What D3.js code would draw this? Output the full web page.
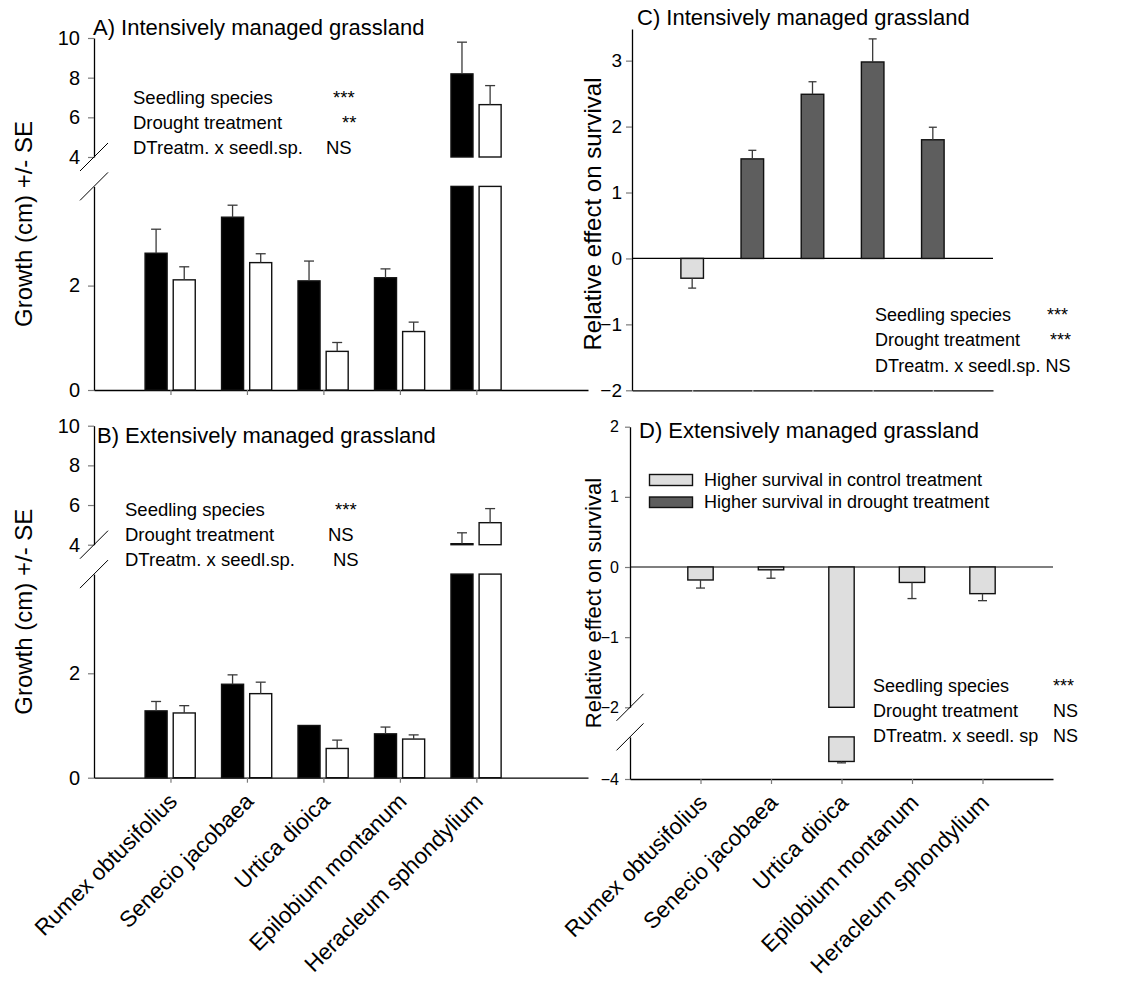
<!DOCTYPE html>
<html><head><meta charset="utf-8">
<script src="https://cdn.jsdelivr.net/npm/d3@7"></script>
<style>
body{margin:0;background:#fff;}
svg{display:block;}
text{font-family:"Liberation Sans",Arial,sans-serif;fill:#000;}
</style></head>
<body><svg id="chart" width="1135" height="985"></svg>
<script>
// ---------------- data ----------------
const species = ["Rumex obtusifolius","Senecio jacobaea","Urtica dioica","Epilobium montanum","Heracleum sphondylium"];
// Growth (cm), intensively managed grassland (black = control, white = drought)
const intControl   = [2.62, 3.31, 2.09, 2.15, 8.19];
const intControlSE = [0.46, 0.23, 0.38, 0.17, 1.60];
const intDrought   = [2.11, 2.44, 0.74, 1.12, 6.64];
const intDroughtSE = [0.25, 0.17, 0.17, 0.18, 0.96];
// Growth (cm), extensively managed grassland
const extControl   = [1.28, 1.79, 1.00, 0.84, 4.05];
const extControlSE = [0.18, 0.18, 0.00, 0.13, 0.55];
const extDrought   = [1.24, 1.61, 0.56, 0.74, 5.11];
const extDroughtSE = [0.14, 0.22, 0.16, 0.08, 0.71];
// Relative effect on survival
const intEffect   = [-0.30, 1.51, 2.49, 2.98, 1.80];
const intEffectSE = [0.15, 0.13, 0.19, 0.35, 0.19];
const extEffect   = [-0.185, -0.04, -3.75, -0.22, -0.38];
const extEffectSE = [0.115, 0.12, 0.02, 0.23, 0.10];
// tick labels
const growthTicksHigh = [4, 6, 8, 10];
const growthTicksLow  = [0, 2];
const effectTicksC    = [-2, -1, 0, 1, 2, 3];
const effectTicksDHigh = [-2, -1, 0, 1, 2];
const effectTicksDLow  = [-4];
// texts
const titles = ["A) Intensively managed grassland","B) Extensively managed grassland","C) Intensively managed grassland","D) Extensively managed grassland"];
const statLabelsAB = ["Seedling species","Drought treatment","DTreatm. x seedl.sp."];
const statA = ["***","**","NS"];
const statB = ["***","NS","NS"];
const statLabelsC = ["Seedling species","Drought treatment","DTreatm. x seedl.sp. NS"];
const statC = ["***","***",""];
const statLabelsD = ["Seedling species","Drought treatment","DTreatm. x seedl. sp"];
const statD = ["***","NS","NS"];
const legendLabels = ["Higher survival in control treatment","Higher survival in drought treatment"];
const yLabelGrowth = "Growth (cm) +/- SE";
const yLabelEffect = "Relative effect on survival";

// ---------------- drawing ----------------
const svg = d3.select("#chart");
const LIGHT = "#dedede", DARK = "#5e5e5e", ERR = "#3a3a3a", TICK = "#7a7a7a";
const idx = [1,2,3,4,5];
const fmt = d3.format("d");

function styleAxis(g, fs){
  g.select(".domain").attr("stroke","#000").attr("stroke-width",1.3);
  g.selectAll(".tick line").attr("stroke",TICK).attr("stroke-width",1.2);
  g.selectAll(".tick text").attr("font-size",fs).attr("font-family",'"Liberation Sans",Arial,sans-serif').attr("fill","#000");
}
function errBar(g, x, y0, y1, half){
  g.append("line").attr("x1",x).attr("x2",x).attr("y1",y0).attr("y2",y1).attr("stroke",ERR).attr("stroke-width",1.3);
  g.append("line").attr("x1",x-half).attr("x2",x+half).attr("y1",y1).attr("y2",y1).attr("stroke",ERR).attr("stroke-width",1.3);
}
function breakMarks(g, x, yc, d){
  g.append("line").attr("x1",x-d).attr("y1",yc+d).attr("x2",x+d).attr("y2",yc-d).attr("stroke","#000").attr("stroke-width",1);
}
function rect(g, x, y0, y1, w, fill){
  g.append("rect").attr("x",x).attr("y",Math.min(y0,y1)).attr("width",w).attr("height",Math.max(0.8,Math.abs(y1-y0)))
   .attr("fill",fill).attr("stroke","#111").attr("stroke-width",1.4);
}
function xLabels(g, x, axisY){
  species.forEach((s,i)=>{
    g.append("text").attr("text-anchor","end").attr("font-size",22.5)
     .attr("transform",`translate(${x(idx[i])+8},${axisY+25}) rotate(-45)`).text(s);
  });
}

// Growth panels (A, B)
function growthPanel(dy, title, ctrl, ctrlSE, dr, drSE, statX, stat, statY, titleX, titleY){
  const g = svg.append("g");
  const lowMax = 3.9;
  const yLow  = d3.scaleLinear().domain([0, lowMax]).range([390+dy, 186.4+dy]);
  const yHigh = d3.scaleLinear().domain([4, 10]).range([157+dy, 38+dy]);
  const x = d3.scaleLinear().domain([0, 6.46]).range([94, 588]);
  const step = x(1)-x(0), bw = step*0.288;

  g.append("g").attr("transform","translate(94,0)")
   .call(d3.axisLeft(yHigh).tickValues(growthTicksHigh).tickFormat(fmt).tickSize(6).tickSizeOuter(0).tickPadding(8))
   .call(a=>styleAxis(a,20));
  g.append("g").attr("transform","translate(94,0)")
   .call(d3.axisLeft(yLow).tickValues(growthTicksLow).tickFormat(fmt).tickSize(6).tickSizeOuter(0).tickPadding(8))
   .call(a=>styleAxis(a,20));
  g.append("g").attr("transform",`translate(0,${yLow(0)})`)
   .call(d3.axisBottom(x).tickValues(idx).tickFormat("").tickSize(5).tickSizeOuter(0))
   .call(a=>styleAxis(a,20));
  breakMarks(g, 94, yHigh(4), 14);
  breakMarks(g, 94, yLow(lowMax), 14);

  [[ctrl,ctrlSE,"#000",-1],[dr,drSE,"#fff",1]].forEach(([vals,se,fill,side])=>{
    vals.forEach((v,i)=>{
      const c = x(idx[i]);
      const xx = side<0 ? c-step*0.332 : c+step*0.036;
      rect(g, xx, yLow(0), yLow(Math.min(v,lowMax)), bw, fill);
      let top;
      if (v > 4){ rect(g, xx, yHigh(4), yHigh(v), bw, fill); top = yHigh(v); }
      else top = yLow(v);
      if (se[i] > 0){
        const e = v > 4 ? yHigh(v+se[i]) : yLow(v+se[i]);
        errBar(g, xx+bw/2, top, e, 5);
      }
    });
  });

  g.append("text").attr("x",titleX).attr("y",titleY).attr("font-size",22).text(title);
  statLabelsAB.forEach((t,i)=>{
    g.append("text").attr("x",statX[0]).attr("y",statY[i]).attr("font-size",18.5).text(t);
    g.append("text").attr("x",statX[1][i]).attr("y",statY[i]).attr("font-size",18.5).text(stat[i]);
  });
  g.append("text").attr("transform",`translate(32,${dy+224}) rotate(-90)`).attr("text-anchor","middle")
   .attr("font-size",24).text(yLabelGrowth);
  return x;
}
growthPanel(0, titles[0], intControl, intControlSE, intDrought, intDroughtSE,
  [133,[333,342,326]], statA, [104,129,154], 93, 35);
const xB = growthPanel(387.7, titles[1], extControl, extControlSE, extDrought, extDroughtSE,
  [125,[335,328,333]], statB, [516,541,566], 97, 443);
xLabels(svg.append("g"), xB, 777.7);

// Panel C
(function(){
  const g = svg.append("g");
  const y = d3.scaleLinear().domain([-2, 3.48]).range([390.3, 29]);
  const x = d3.scaleLinear().domain([0, 6]).range([632, 993]);
  const bw = (x(1)-x(0))*0.375;
  g.append("g").attr("transform","translate(632,0)")
   .call(d3.axisLeft(y).tickValues(effectTicksC).tickFormat(fmt).tickSize(6).tickSizeOuter(0).tickPadding(4))
   .call(a=>styleAxis(a,19));
  g.append("g").attr("transform",`translate(0,${y(-2)})`)
   .call(d3.axisBottom(x).tickValues(idx).tickFormat("").tickSize(2).tickSizeOuter(0))
   .call(a=>{styleAxis(a,19); a.selectAll(".tick line").attr("stroke","#ccc");});
  g.append("line").attr("x1",x(0)).attr("x2",x(6)).attr("y1",y(0)).attr("y2",y(0)).attr("stroke","#000").attr("stroke-width",1.2);
  intEffect.forEach((v,i)=>{
    const c = x(idx[i]);
    rect(g, c-bw/2, y(0), y(v), bw, v<0?LIGHT:DARK);
    const s = v<0 ? -1 : 1;
    errBar(g, c, y(v), y(v + s*intEffectSE[i]), 4);
  });
  g.append("text").attr("x",637).attr("y",25).attr("font-size",22).text(titles[2]);
  const sy=[321,346,371.5], sx=[1047,1050,0];
  statLabelsC.forEach((t,i)=>{
    g.append("text").attr("x",875).attr("y",sy[i]).attr("font-size",18).text(t);
    if (statC[i]) g.append("text").attr("x",sx[i]).attr("y",sy[i]).attr("font-size",18).text(statC[i]);
  });
  g.append("text").attr("transform",`translate(601,214) rotate(-90)`).attr("text-anchor","middle")
   .attr("font-size",24).text(yLabelEffect);
})();

// Panel D
(function(){
  const g = svg.append("g");
  const yU = d3.scaleLinear().domain([-2, 2]).range([707.3, 426.7]);
  const yL = d3.scaleLinear().domain([-4, -3.4]).range([779, 736.9]);
  const x = d3.scaleLinear().domain([0, 6]).range([630, 1053]);
  const bw = (x(1)-x(0))*0.36;
  g.append("g").attr("transform","translate(630,0)")
   .call(d3.axisLeft(yU).tickValues(effectTicksDHigh).tickFormat(fmt).tickSize(5).tickSizeOuter(0).tickPadding(6))
   .call(a=>styleAxis(a,16));
  g.append("g").attr("transform","translate(630,0)")
   .call(d3.axisLeft(yL).tickValues(effectTicksDLow).tickFormat(fmt).tickSize(5).tickSizeOuter(0).tickPadding(6))
   .call(a=>styleAxis(a,16));
  g.append("g").attr("transform",`translate(0,${yL(-4)})`)
   .call(d3.axisBottom(x).tickValues(idx).tickFormat("").tickSize(5).tickSizeOuter(0))
   .call(a=>styleAxis(a,16));
  breakMarks(g, 630, yU(-2), 13.5);
  breakMarks(g, 630, yL(-3.4), 13.5);
  g.append("line").attr("x1",x(0)).attr("x2",x(6)).attr("y1",yU(0)).attr("y2",yU(0)).attr("stroke","#000").attr("stroke-width",1.2);
  extEffect.forEach((v,i)=>{
    const c = x(idx[i]);
    const fill = v<0?LIGHT:DARK;
    rect(g, c-bw/2, yU(0), yU(Math.max(v,-2)), bw, fill);
    if (v < -2){
      rect(g, c-bw/2, yL(-3.4), yL(v), bw, fill);
      errBar(g, c, yL(v), yL(v-extEffectSE[i]), 4.5);
    } else {
      errBar(g, c, yU(v), yU(v + (v<0?-1:1)*extEffectSE[i]), 4.5);
    }
  });
  g.append("text").attr("x",639).attr("y",438).attr("font-size",22).text(titles[3]);
  // legend
  [LIGHT, DARK].forEach((f,i)=>{
    g.append("rect").attr("x",649.5).attr("y",i?497:474.5).attr("width",43).attr("height",i?10.5:11)
     .attr("fill",f).attr("stroke","#111").attr("stroke-width",1.4);
    g.append("text").attr("x",704).attr("y",i?508:486).attr("font-size",18).text(legendLabels[i]);
  });
  const sy=[692,717,742];
  statLabelsD.forEach((t,i)=>{
    g.append("text").attr("x",873).attr("y",sy[i]).attr("font-size",18).text(t);
    g.append("text").attr("x",1053).attr("y",sy[i]).attr("font-size",18).text(statD[i]);
  });
  g.append("text").attr("transform",`translate(601,603) rotate(-90)`).attr("text-anchor","middle")
   .attr("font-size",22).text(yLabelEffect);
  xLabels(svg.append("g"), x, 779);
})();
</script></body></html>
